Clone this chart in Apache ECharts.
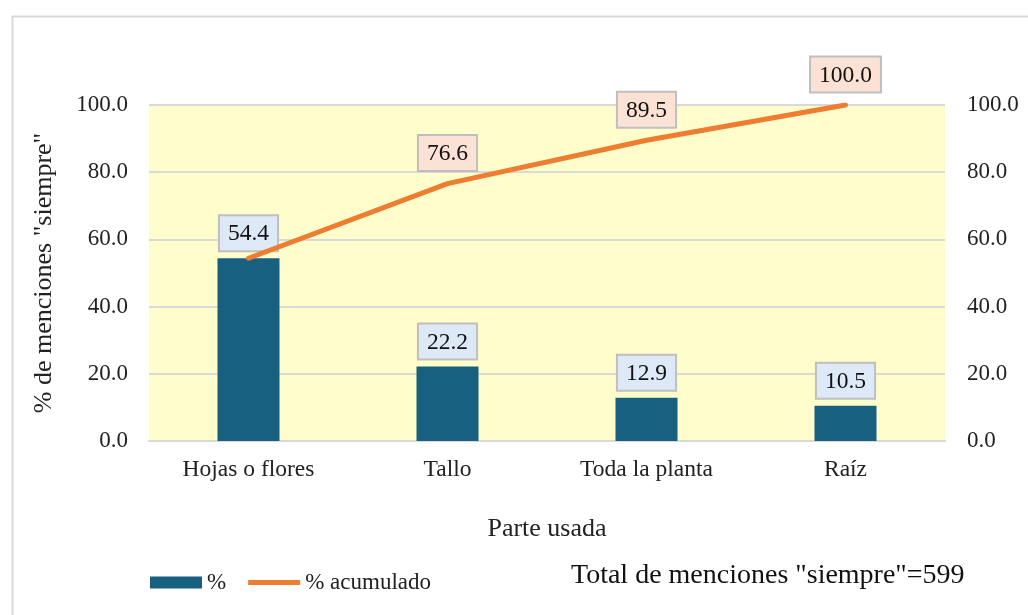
<!DOCTYPE html>
<html>
<head>
<meta charset="UTF-8">
<title>Parte usada</title>
<style>
html,body{margin:0;padding:0;width:100%;height:100%;background:#fff;}
#wrap{width:1028px;height:615px;}
</style>
</head>
<body>
<div id="wrap"></div>
<script src="https://cdn.jsdelivr.net/npm/echarts@6/dist/echarts.min.js"></script>
<script>
// datos
let categorias = ['Hojas o flores', 'Tallo', 'Toda la planta', 'Raíz'];
let porcentaje = [54.4, 22.2, 12.9, 10.5];
let acumulado = [54.4, 76.6, 89.5, 100.0];

let fuente = '"Liberation Serif","Times New Roman",serif';
let chart = echarts.init(document.getElementById('wrap'));

// el primer acumulado coincide con la barra: sin etiqueta propia
let datosLinea = acumulado.map((v, i) => i === 0 ? {value: v, label: {show: false}} : v);

let options = {
    backgroundColor: '#fff',
    textStyle: {fontFamily: fuente},
    grid: {left: 149, right: 83, top: 105, bottom: 174, show: true, backgroundColor: '#fffdcc', borderWidth: 0},
    legend: {
        left: 150, top: 571,
        itemWidth: 52, itemHeight: 12, itemGap: 22, padding: 0,
        textStyle: {fontFamily: fuente, fontSize: 23, color: '#222'},
        data: [
            {name: '%', icon: 'rect'},
            {name: '% acumulado', icon: 'path://M0,1 L20,1 L20,3 L0,3 Z'}
        ]
    },
    xAxis: {
        type: 'category',
        data: categorias,
        name: 'Parte usada',
        nameLocation: 'middle',
        nameGap: 75,
        nameTextStyle: {fontFamily: fuente, fontSize: 26, color: '#222'},
        axisLine: {lineStyle: {color: '#d9d9d9', width: 2}},
        axisTick: {show: false},
        axisLabel: {fontFamily: fuente, fontSize: 23.5, color: '#222', margin: 17}
    },
    yAxis: [{
        type: 'value', min: 0, max: 100, interval: 20,
        name: '% de menciones "siempre"',
        nameLocation: 'middle',
        nameGap: 92,
        nameTextStyle: {fontFamily: fuente, fontSize: 26, color: '#222'},
        axisLine: {show: false}, axisTick: {show: false},
        splitLine: {lineStyle: {color: '#d9d9d9', width: 2}},
        axisLabel: {fontFamily: fuente, fontSize: 23, color: '#222', margin: 21,
            formatter: v => v.toFixed(1)}
    }, {
        type: 'value', min: 0, max: 100, interval: 20, position: 'right',
        axisLine: {show: false}, axisTick: {show: false}, splitLine: {show: false},
        axisLabel: {fontFamily: fuente, fontSize: 23, color: '#222', margin: 22,
            formatter: v => v.toFixed(1)}
    }],
    series: [{
        name: '%',
        type: 'bar',
        data: porcentaje,
        barWidth: 62,
        itemStyle: {color: '#17607f'},
        label: {
            show: true, position: 'top', distance: 8,
            formatter: p => p.value.toFixed(1),
            fontFamily: fuente, fontSize: 23.5, color: '#111',
            backgroundColor: '#dde9f6', borderColor: '#bfbfbf', borderWidth: 2,
            padding: [6, 8, 4, 8]
        }
    }, {
        name: '% acumulado',
        type: 'line',
        yAxisIndex: 1,
        data: datosLinea,
        symbol: 'circle',
        symbolSize: 1,
        showSymbol: true,
        lineStyle: {color: '#ed7d31', width: 5, cap: 'round'},
        itemStyle: {color: '#ed7d31'},
        z: 5,
        label: {
            show: true, position: 'top', distance: 13,
            formatter: p => p.value.toFixed(1),
            fontFamily: fuente, fontSize: 23.5, color: '#111',
            backgroundColor: '#fbe2d5', borderColor: '#bfbfbf', borderWidth: 2,
            padding: [6, 8, 4, 8]
        }
    }],
    graphic: [{
        type: 'rect', left: 10, top: 14,
        shape: {width: 1030, height: 610},
        style: {fill: 'none', stroke: '#d9d9d9', lineWidth: 2}, silent: true
    }, {
        type: 'text', left: 571, top: 562,
        style: {text: 'Total de menciones "siempre"=599', font: '28px ' + fuente, fill: '#111'}
    }]
};

chart.setOption(options);
</script>
</body>
</html>
